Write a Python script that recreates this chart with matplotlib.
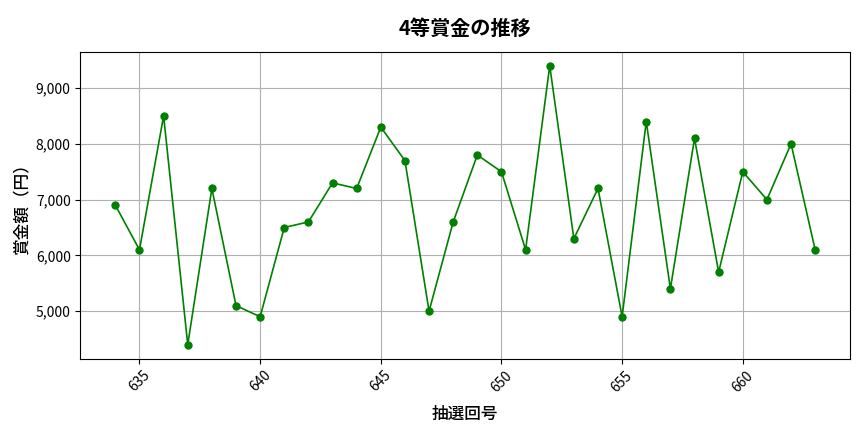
import matplotlib
matplotlib.use("Agg")
import matplotlib.pyplot as plt
from matplotlib.ticker import FuncFormatter

plt.rcParams['font.family'] = ['Noto Sans CJK JP', 'DejaVu Sans']

# 抽選回号と4等賞金
draws = list(range(634, 664))
prizes = [6900, 6100, 8500, 4400, 7200, 5100, 4900, 6500, 6600, 7300,
          7200, 8300, 7700, 5000, 6600, 7800, 7500, 6100, 9400, 6300,
          7200, 4900, 8400, 5400, 8100, 5700, 7500, 7000, 8000, 6100]

fig, ax = plt.subplots(figsize=(8.64, 4.32), dpi=100)
ax.plot(draws, prizes, color='green', marker='o', markersize=5, linewidth=1.2)

ax.set_title("4等賞金の推移", fontsize=14.5, fontweight='bold', pad=12)
ax.set_xlabel("抽選回号", fontsize=12, fontweight='medium', labelpad=7)
ax.set_ylabel("賞金額（円）", fontsize=12, fontweight='medium', labelpad=4)
ax.yaxis.set_major_formatter(FuncFormatter(lambda v, p: f"{int(v):,}"))
plt.setp(ax.get_xticklabels(), rotation=45)
ax.grid(True, color='#b0b0b0', linewidth=0.8)

fig.subplots_adjust(left=0.093, right=0.984, top=0.88, bottom=0.17)
fig.savefig("out.png", dpi=100)
